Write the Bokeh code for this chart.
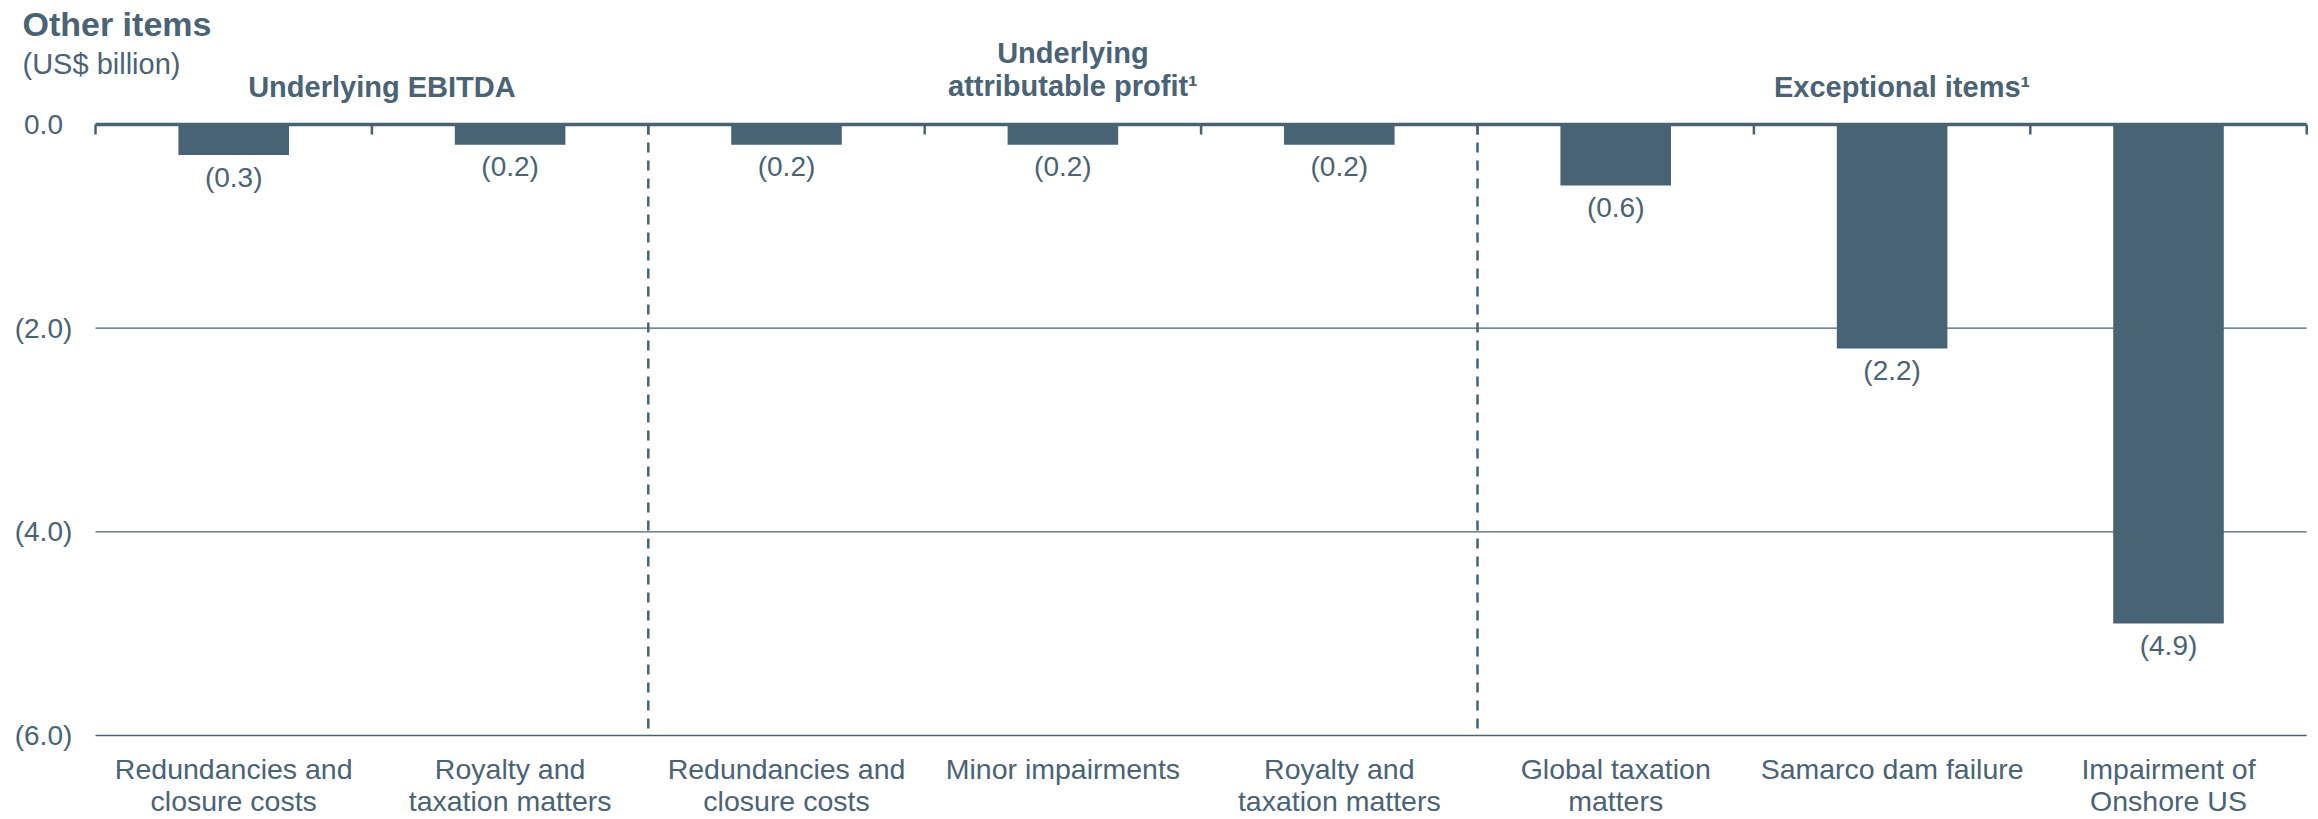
from bokeh.plotting import figure
from bokeh.models import Range1d, ColumnDataSource
from bokeh.core.properties import value
from bokeh.embed import file_html
from bokeh.resources import INLINE

# ---- data -------------------------------------------------------------
title = "Other items"
unit_label = "(US$ billion)"
categories = [
    "Redundancies and\nclosure costs",
    "Royalty and\ntaxation matters",
    "Redundancies and\nclosure costs",
    "Minor impairments",
    "Royalty and\ntaxation matters",
    "Global taxation\nmatters",
    "Samarco dam failure",
    "Impairment of\nOnshore US",
]
amounts = [-0.3, -0.2, -0.2, -0.2, -0.2, -0.6, -2.2, -4.9]
group_names = ["Underlying EBITDA", "Underlying\nattributable profit\u00b9", "Exceptional items\u00b9"]
group_sizes = [2, 3, 3]
y_ticks = [0.0, -2.0, -4.0, -6.0]
y_tick_labels = ["0.0", "(2.0)", "(4.0)", "(6.0)"]

# ---- layout / style ---------------------------------------------------
W, H = 2318, 819
FONT = "Liberation Sans"
SLATE = "#476374"
TEXT = "#4a6375"

X0_PX = 95.0          # left end of the category axis
X_PER_UNIT = 276.4    # pixels per category slot
Y0_PX = 124.0         # zero line
Y_PER_UNIT = 101.83   # pixels per US$ billion

n = len(categories)


def xd(px):
    return (px - X0_PX) / X_PER_UNIT


def yd(py):
    return (Y0_PX - py) / Y_PER_UNIT


p = figure(
    width=W, height=H,
    x_range=Range1d(xd(0), xd(W)),
    y_range=Range1d(yd(H), yd(0)),
    output_backend="svg", toolbar_location=None,
    x_axis_location=None, y_axis_location=None,
    min_border=0,
)
p.grid.visible = False
p.outline_line_color = None
p.background_fill_color = "white"
p.border_fill_color = "white"

centers = [i + 0.5 for i in range(n)]

# horizontal gridlines below zero
grid_vals = [t for t in y_ticks if t != 0]
p.segment(x0=[0] * len(grid_vals), x1=[n] * len(grid_vals), y0=grid_vals, y1=grid_vals,
          line_color=SLATE, line_width=1.3)

# dashed separators between the three groups
bounds = []
acc = 0
for s in group_sizes[:-1]:
    acc += s
    bounds.append(acc)
p.segment(x0=bounds, x1=bounds, y0=[0] * len(bounds), y1=[min(y_ticks)] * len(bounds),
          line_color=SLATE, line_width=2.5, line_dash="10 8")

# bars
src = ColumnDataSource(dict(
    x=centers,
    top=[0] * n,
    bottom=amounts,
    lab=["({:.1f})".format(abs(v)) for v in amounts],
    lab_y=[v - 22 / Y_PER_UNIT for v in amounts],
    cat=categories,
    cat_y=[yd(752)] * n,
))
p.vbar(x="x", top="top", bottom="bottom", width=0.4, source=src,
       fill_color=SLATE, line_color=None)

# zero axis line with tick marks at every slot boundary
p.segment(x0=[0], x1=[n], y0=[0], y1=[0], line_color=SLATE, line_width=3.5)
tick_x = list(range(n + 1))
p.segment(x0=tick_x, x1=tick_x, y0=[0] * len(tick_x), y1=[-10 / Y_PER_UNIT] * len(tick_x),
          line_color=SLATE, line_width=2.5)

# value labels under the bars
p.text(x="x", y="lab_y", text="lab", source=src, text_font=value(FONT),
       text_font_size="28px", text_color=TEXT, text_align="center", text_baseline="middle")

# category labels
p.text(x="x", y="cat_y", text="cat", source=src, text_font=value(FONT),
       text_font_size="28.5px", text_color=TEXT, text_align="center", text_baseline="top",
       text_line_height=1.0)

# y tick labels
p.text(x=[xd(43)] * len(y_ticks), y=y_ticks, text=y_tick_labels, text_font=value(FONT),
       text_font_size="28px", text_color=TEXT, text_align="center", text_baseline="middle")

# group headers
g_centers = []
acc = 0
for s in group_sizes:
    g_centers.append(acc + s / 2)
    acc += s
p.text(x=g_centers, y=[yd(102)] * len(g_centers), text=group_names, text_font=value(FONT),
       text_font_size="29px", text_font_style="bold", text_color=TEXT,
       text_align="center", text_baseline="bottom", text_line_height=1.04, x_offset=10)

# title and unit
p.text(x=[xd(22)], y=[yd(23)], text=[title], text_font=value(FONT), text_font_size="34px",
       text_font_style="bold", text_color=TEXT, text_align="left", text_baseline="alphabetic")
p.text(x=[xd(22)], y=[yd(63)], text=[unit_label], text_font=value(FONT), text_font_size="29px",
       text_color=TEXT, text_align="left", text_baseline="alphabetic")

open("out.html", "w").write(file_html(p, INLINE))
